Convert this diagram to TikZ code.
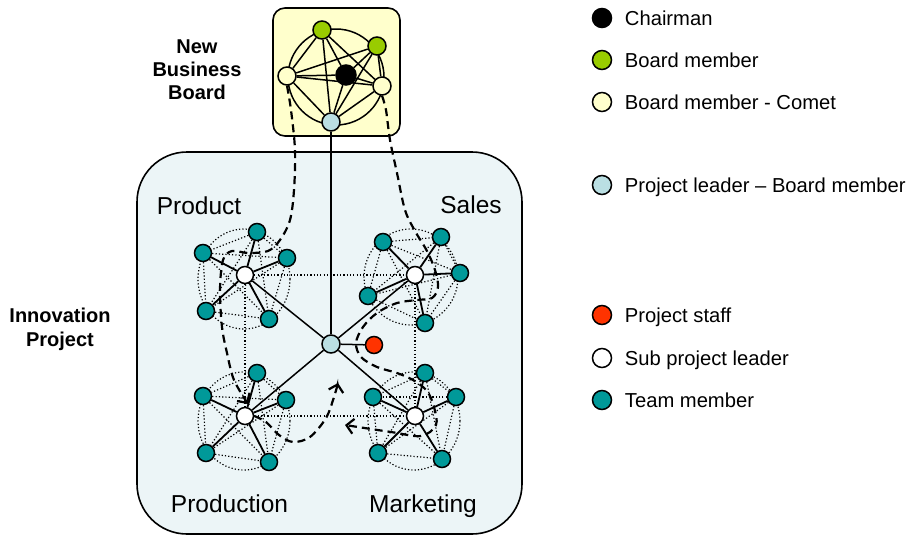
\documentclass[tikz,border=0pt]{standalone}
\usepackage{fontspec}
\setmainfont{Liberation Sans}
\usetikzlibrary{arrows.meta,positioning}
\pgfdeclarelayer{back}
\pgfdeclarelayer{links}
\pgfsetlayers{back,links,main}
\definecolor{boardyellow}{HTML}{FFFFCC}
\definecolor{innoblue}{HTML}{ECF5F7}
\definecolor{bgreen}{HTML}{99CC00}
\definecolor{teamteal}{HTML}{009999}
\definecolor{staffred}{HTML}{FF3300}
\definecolor{leadblue}{HTML}{BADFE3}

\begin{document}
\begin{tikzpicture}[x=1pt,y=1pt,label distance=11.5pt,
every label/.style={font=\fontsize{20.2}{24}\selectfont,inner sep=1pt,
text height=14.3pt,text depth=0pt}]
\tikzstyle{person}=[draw,circle,line width=1.5pt,minimum size=17pt,inner sep=0pt]
\tikzstyle{chair}=[person,fill=black,minimum size=20pt]
\tikzstyle{bmember}=[person,fill=bgreen,minimum size=18pt]
\tikzstyle{comet}=[person,fill=boardyellow,minimum size=18pt]
\tikzstyle{pleader}=[person,fill=leadblue,minimum size=18pt]
\tikzstyle{staff}=[person,fill=staffred]
\tikzstyle{sub}=[person,fill=white]
\tikzstyle{team}=[person,fill=teamteal]
\tikzstyle{legend}=[minimum size=19pt]
\tikzstyle{tie}=[line width=1.8pt]
\tikzstyle{dots}=[line width=1.2pt,dash pattern=on 1.2pt off 2.1pt]
\tikzstyle{flow}=[line width=2.2pt,dash pattern=on 8pt off 5pt,
-{Straight Barb[length=7pt,width=15pt]}]
\tikzstyle{group}=[font=\fontsize{24.5}{28}\selectfont,anchor=base]
\tikzstyle{title}=[font=\bfseries\fontsize{20}{23.2}\selectfont,align=center,
anchor=north,inner sep=0pt]

\useasboundingbox (0,0) rectangle (906,-536);

% boxes
\begin{pgfonlayer}{back}
\draw [line width=1.6pt,fill=boardyellow,rounded corners=12pt] (273,-8) rectangle (400,-136);
\draw [line width=1.6pt,fill=innoblue,rounded corners=50pt] (137,-152) rectangle (522,-534);
\end{pgfonlayer}

\node[title] (nbb) at (197,-39.3) {New\\Business\\Board};
\node[title] (ip) at (60,-308.3) {Innovation\\Project};

% board
\draw (287,-76) node[comet] (bl) {};
\draw (346,-75) node[chair] (ch) {};
\draw (322,-30) node[bmember] (bg1) {};
\draw (377,-46) node[bmember] (bg2) {};
\draw (382,-86) node[comet] (br) {};
\draw (331,-122) node[pleader] (pb) {};

% project centre
\draw (331,-344) node[pleader] (c) {};
\draw (374,-345) node[staff] (r) {};

% Product
\draw (245,-275) node[sub] (pd) {};
\draw (257,-232) node[team] (pd1) {};
\draw (203,-253) node[team] (pd2) {};
\draw (287,-258) node[team] (pd3) {};
\draw (206,-311) node[team] (pd4) {};
\draw (269,-319) node[team] (pd5) {};
% Sales
\draw (415,-275) node[sub] (sa) {};
\draw (383,-242) node[team] (sa1) {};
\draw (441,-237) node[team] (sa2) {};
\draw (460,-273) node[team] (sa3) {};
\draw (368,-296) node[team] (sa4) {};
\draw (425,-323) node[team] (sa5) {};
% Production
\draw (245,-416) node[sub] (pn) {};
\draw (257,-373) node[team] (pn1) {};
\draw (203,-396) node[team] (pn2) {};
\draw (286,-400) node[team] (pn3) {};
\draw (206,-453) node[team] (pn4) {};
\draw (269,-462) node[team] (pn5) {};
% Marketing
\draw (415,-416) node[sub] (mk) {};
\draw (425,-373) node[team] (mk1) {};
\draw (456,-397) node[team] (mk2) {};
\draw (373,-397) node[team] (mk3) {};
\draw (378,-453) node[team] (mk4) {};
\draw (442,-459) node[team] (mk5) {};

\node[group] (lpd) at (199,-214) {Product};
\node[group] (lsa) at (471,-213) {Sales};
\node[group] (lpn) at (229.5,-512) {Production};
\node[group] (lmk) at (423,-512) {Marketing};

% legend
\draw (602,-18) node[chair,legend,label=right:Chairman] (k1) {};
\draw (602,-60) node[bmember,legend,label=right:Board member] (k2) {};
\draw (602,-102) node[comet,legend,label=right:Board member - Comet] (k3) {};
\draw (602,-185) node[pleader,legend,label=right:Project leader – Board member] (k4) {};
\draw (602,-315) node[staff,legend,label=right:Project staff] (k5) {};
\draw (602,-358) node[sub,legend,label=right:Sub project leader] (k6) {};
\draw (602,-400) node[team,legend,label=right:Team member] (k7) {};

\begin{pgfonlayer}{links}
\draw [line width=1.5pt] (336,-77) circle (48);
\foreach \a/\b in {bl/ch,bl/bg1,bl/bg2,bl/br,bl/pb,ch/bg1,ch/bg2,ch/br,ch/pb,
bg1/br,bg1/pb,bg2/br,bg2/pb,br/pb}
  \draw [line width=1.5pt] (\a) -- (\b);

% dotted rings and mesh
\draw [dots] (244,-279) ellipse (46 and 50);
\draw [dots] (411,-277) ellipse (47 and 48);
\draw [dots] (244,-421) ellipse (46 and 49);
\draw [dots] (414,-421) ellipse (46 and 49);
\foreach \g in {pd,sa,pn,mk} {
  \foreach \i/\j in {1/2,1/3,1/4,1/5,2/3,2/4,2/5,3/4,3/5,4/5}
    \draw [dots] (\g\i) -- (\g\j);
  \foreach \i in {1,...,5}
    \draw [tie] (\g) -- (\g\i);
}
\draw [dots] (pd) -- (sa);
\draw [dots] (pn) -- (mk);
\draw [dots] (pd) -- (pn);
\draw [dots] (sa) -- (mk);

\draw [line width=1.2pt] (pb) -- (c);
\foreach \g in {pd,sa,pn,mk}
  \draw [line width=1.5pt] (c) -- (\g);
\draw [line width=1.5pt] (c) -- (r);

% work flow
\draw [flow] plot [smooth,tension=0.55] coordinates {(bl.south) (291,-110) (295,-150)
(294,-190) (290,-220) (280,-240) (268,-251) (248,-253) (232,-251) (223,-260)
(220,-290) (222,-327) (227,-353) (234,-380) (248,-404)};
\draw [flow] plot [smooth,tension=0.55] coordinates {(br.south) (386,-110) (390,-140)
(397,-173) (405,-210) (415,-231) (427,-251) (435,-270) (438,-287) (432,-298)
(417,-300) (397,-303) (377,-313) (363,-327) (356,-343) (361,-357) (377,-367)
(397,-373) (413,-380) (427,-391) (434,-407) (436,-425) (421,-436) (391,-432)
(345,-425)};
\draw [flow] plot [smooth,tension=0.55] coordinates {(pn.east) (266,-422) (279,-435)
(293,-442) (310,-437) (326,-418) (334,-397) (338,-383)};
\end{pgfonlayer}
\end{tikzpicture}
\end{document}
